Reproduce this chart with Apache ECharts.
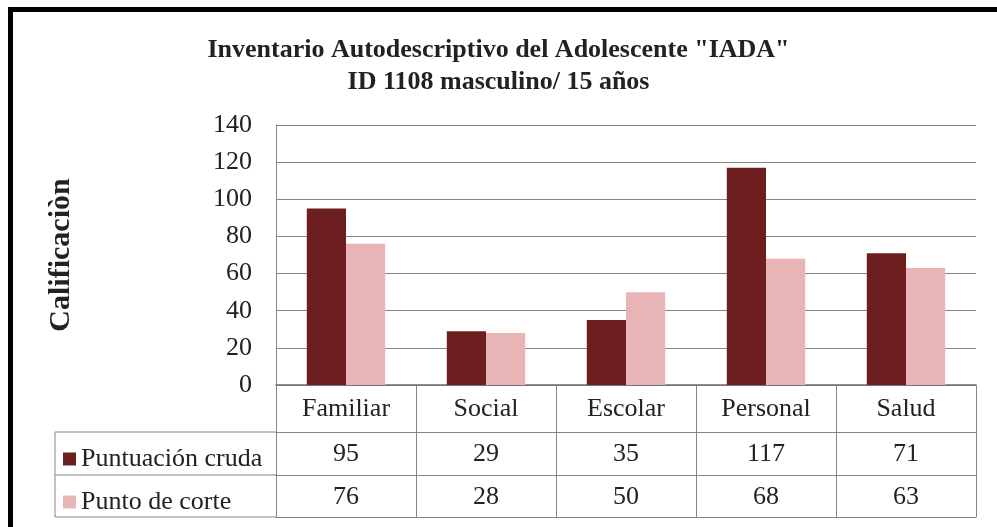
<!DOCTYPE html>
<html>
<head>
<meta charset="utf-8">
<script src="https://cdn.jsdelivr.net/npm/echarts@6/dist/echarts.min.js"></script>
<style>
  html, body { margin: 0; padding: 0; background: #ffffff; }
  #chart { width: 997px; height: 527px; }
</style>
</head>
<body>
<div id="chart"></div>
<script>
// IADA profile: raw score vs. cut-off per scale
const categories = ['Familiar', 'Social', 'Escolar', 'Personal', 'Salud'];
const rawScores = [95, 29, 35, 117, 71];
const cutoffScores = [76, 28, 50, 68, 63];
const seriesNames = ['Puntuación cruda', 'Punto de corte'];
const yTicks = { min: 0, max: 140, interval: 20 };

const FONT = '"Liberation Serif", "Times New Roman", serif';
const LABEL_SIZE = 26;
const GRID = { left: 276, right: 21, top: 125, bottom: 142 };
const W = 997, H = 527;
const ROW = [47, 90, 132];          // table row separators below the plot
const GRAY = '#858585';
const TEXT = '#222222';

const baseY = H - GRID.bottom;
const tableLeft = 55;

const chart = echarts.init(document.getElementById('chart'), null, { renderer: 'canvas' });

function rowAxis(offset, values, showLabel) {
  return {
    type: 'category',
    data: categories,
    position: 'bottom',
    offset: offset,
    axisLine: { show: true, lineStyle: { color: GRAY, width: 1 } },
    axisTick: { show: false },
    axisLabel: {
      show: showLabel,
      interval: 0,
      margin: 9,
      fontFamily: FONT,
      fontSize: LABEL_SIZE,
      color: TEXT,
      formatter: (v, i) => values ? String(values[i]) : ''
    },
    splitLine: { show: false }
  };
}

// Legend-column cell borders on the left of the data table
const tableLines = [];
ROW.forEach(off => {
  tableLines.push({
    type: 'line',
    shape: { x1: tableLeft, y1: baseY + off, x2: GRID.left, y2: baseY + off },
    style: { stroke: GRAY, lineWidth: 1 }
  });
});
tableLines.push({
  type: 'line',
  shape: { x1: tableLeft, y1: baseY + ROW[0], x2: tableLeft, y2: baseY + ROW[2] },
  style: { stroke: GRAY, lineWidth: 1 }
});

chart.setOption({
  backgroundColor: '#ffffff',
  animation: false,
  title: {
    text: 'Inventario Autodescriptivo del Adolescente "IADA"\nID 1108 masculino/ 15 años',
    left: 'center',
    top: 29,
    textStyle: {
      fontFamily: FONT,
      fontSize: 26,
      fontWeight: 'bold',
      color: TEXT,
      lineHeight: 32
    }
  },
  legend: {
    orient: 'vertical',
    left: 58,
    top: baseY + ROW[0] + 9,
    itemWidth: 13,
    itemHeight: 13,
    itemGap: 17,
    icon: 'rect',
    selectedMode: false,
    textStyle: { fontFamily: FONT, fontSize: LABEL_SIZE, lineHeight: 26, color: TEXT, padding: [0, 0, 0, 0] },
    data: seriesNames
  },
  grid: GRID,
  xAxis: [
    {
      type: 'category',
      data: categories,
      position: 'bottom',
      axisLine: { show: true, lineStyle: { color: '#6f6f6f', width: 1.5 } },
      axisTick: { show: true, length: ROW[2], interval: 0, lineStyle: { color: GRAY, width: 1 } },
      axisLabel: { interval: 0, margin: 11, fontFamily: FONT, fontSize: LABEL_SIZE, color: TEXT },
      splitLine: { show: false }
    },
    rowAxis(ROW[0], rawScores, true),
    rowAxis(ROW[1], cutoffScores, true),
    rowAxis(ROW[2], null, false)
  ],
  yAxis: {
    type: 'value',
    min: yTicks.min,
    max: yTicks.max,
    interval: yTicks.interval,
    name: 'Calificaciòn',
    nameLocation: 'middle',
    nameRotate: 90,
    nameGap: 200,
    nameTextStyle: { fontFamily: FONT, fontSize: 30, fontWeight: 'bold', color: TEXT },
    axisLine: { show: true, lineStyle: { color: GRAY, width: 1 } },
    axisTick: { show: false },
    axisLabel: { margin: 24, fontFamily: FONT, fontSize: LABEL_SIZE, color: TEXT },
    splitLine: { show: true, lineStyle: { color: GRAY, width: 1 } }
  },
  series: [
    {
      name: seriesNames[0],
      type: 'bar',
      xAxisIndex: 0,
      data: rawScores,
      barGap: '0%',
      barCategoryGap: '44%',
      itemStyle: { color: '#6d1f20' }
    },
    {
      name: seriesNames[1],
      type: 'bar',
      xAxisIndex: 0,
      data: cutoffScores,
      barGap: '0%',
      barCategoryGap: '44%',
      itemStyle: { color: '#e8b4b6' }
    }
  ],
  graphic: [
    // frame: heavy rule along the top and left edges
    { type: 'rect', shape: { x: 8, y: 7, width: W - 8, height: 5 }, style: { fill: '#000' }, silent: true },
    { type: 'rect', shape: { x: 8, y: 7, width: 5, height: H - 7 }, style: { fill: '#000' }, silent: true },
    ...tableLines
  ]
});
</script>
</body>
</html>
